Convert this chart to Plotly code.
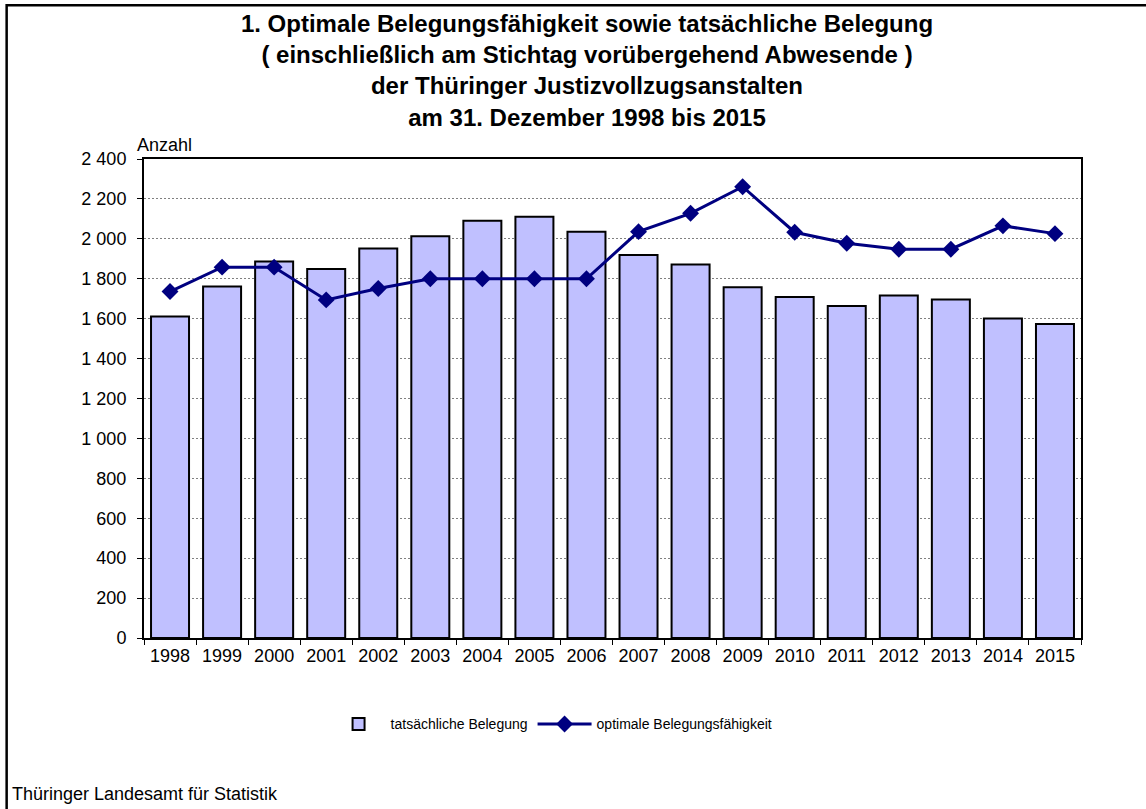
import plotly.graph_objects as go

years = [str(y) for y in range(1998, 2016)]
belegung = [1611, 1761, 1886, 1849, 1951, 2013, 2090, 2111, 2035,
            1919, 1871, 1758, 1709, 1664, 1716, 1696, 1601, 1573]
kapazitaet = [1736, 1858, 1858, 1694, 1751, 1800, 1800, 1800, 1800,
              2036, 2128, 2261, 2033, 1978, 1948, 1948, 2065, 2026]

W, H = 1146, 809
L, R, T, B = 143.5, 1081.5, 159, 638.5

def px(x):
    return (x - L) / (R - L)

def py(y):
    return (B - y) / (B - T)

fig = go.Figure()
fig.add_trace(go.Bar(
    x=years, y=belegung, name="tatsächliche Belegung",
    marker=dict(color="#C0C0FF", line=dict(color="black", width=2)),
))
fig.add_trace(go.Scatter(
    x=years, y=kapazitaet, name="optimale Belegungsfähigkeit",
    mode="lines+markers",
    line=dict(color="#000080", width=3),
    marker=dict(symbol="diamond", size=13, color="#000080"),
))

font = "Liberation Sans, Arial, sans-serif"
fig.update_layout(
    width=W, height=H,
    margin=dict(l=L, r=W - R, t=T, b=H - B, autoexpand=False),
    paper_bgcolor="white", plot_bgcolor="white",
    font=dict(family=font, size=18, color="black"),
    separators=", ",
    bargap=0.27,
    title=dict(
        text="<b>1. Optimale Belegungsfähigkeit sowie tatsächliche Belegung<br>"
             "( einschließlich am Stichtag vorübergehend Abwesende )<br>"
             "der Thüringer Justizvollzugsanstalten<br>"
             "am 31. Dezember 1998 bis 2015</b>",
        x=587 / W, xanchor="center", y=1 - 32 / H, yanchor="top",
        font=dict(family=font, size=24, color="black"),
    ),
    xaxis=dict(
        type="category", range=[-0.5, len(years) - 0.5],
        showline=True, linecolor="black", linewidth=2, mirror=True,
        ticks="outside", ticklen=5, tickcolor="black", tickwidth=1,
        tickson="boundaries", showgrid=False, tickangle=0,
        tickfont=dict(size=18),
    ),
    yaxis=dict(
        range=[0, 2400], dtick=200, separatethousands=True,
        showline=True, linecolor="black", linewidth=2, mirror=True,
        ticks="outside", ticklen=5, tickcolor="black", tickwidth=1,
        ticklabelstandoff=7,
        showgrid=True, gridcolor="#808080", gridwidth=1, griddash="2px,2px",
        zeroline=False, tickfont=dict(size=18),
    ),
    showlegend=True,
    legend=dict(
        orientation="h", x=px(552), xanchor="center", y=py(725), yanchor="middle",
        font=dict(size=14), itemwidth=54, traceorder="normal",
        bgcolor="rgba(0,0,0,0)",
    ),
    shapes=[dict(
        type="rect", xref="paper", yref="paper",
        x0=px(6), x1=px(1170), y0=py(830), y1=py(5),
        line=dict(color="black", width=2.5), fillcolor="rgba(0,0,0,0)",
        layer="below",
    )],
    annotations=[
        dict(text="Anzahl", xref="paper", yref="paper", x=px(134), y=py(157),
             xanchor="left", yanchor="bottom", showarrow=False,
             font=dict(size=18)),
        dict(text="Thüringer Landesamt für Statistik", xref="paper", yref="paper",
             x=px(9), y=py(807), xanchor="left", yanchor="bottom", showarrow=False,
             font=dict(size=18)),
    ],
)

fig.write_html("out.html", config={"displayModeBar": False},
               post_script="document.body.style.margin='0';document.body.style.overflow='hidden';")
